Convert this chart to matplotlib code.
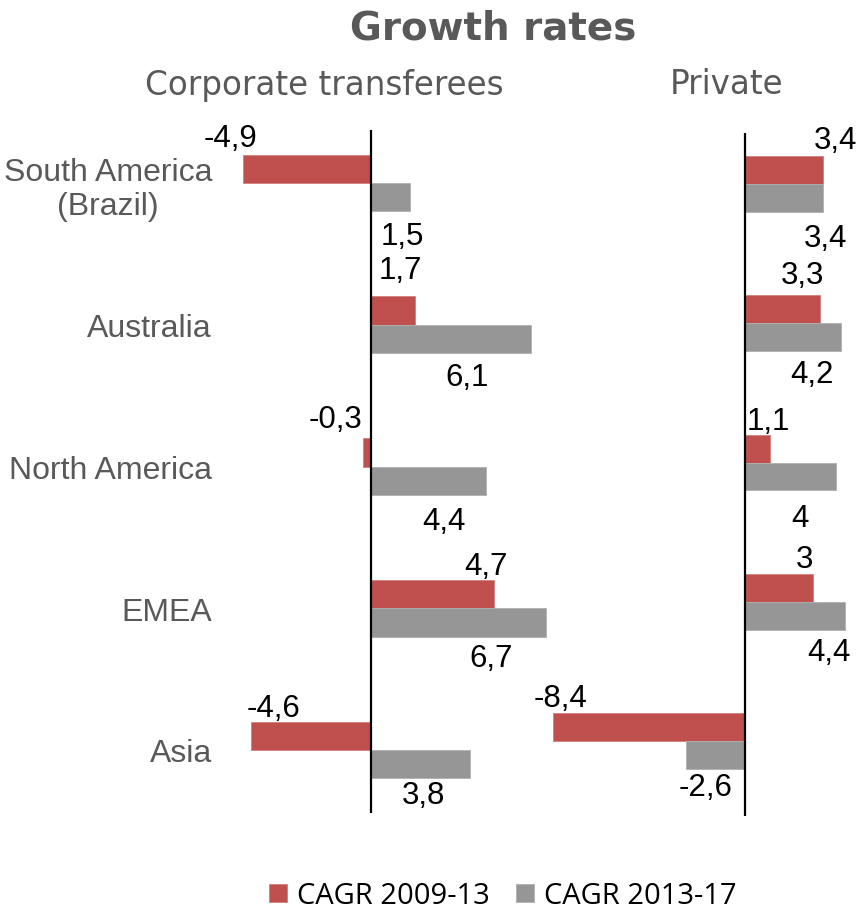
import matplotlib
matplotlib.use("Agg")
import matplotlib.pyplot as plt
import numpy as np

plt.rcParams['font.family'] = ['Liberation Sans', 'DejaVu Sans']

# ---- data ----
categories = ["South America\n(Brazil)", "Australia", "North America", "EMEA", "Asia"]
series_names = ["CAGR 2009-13", "CAGR 2013-17"]

corporate_0913 = [-4.9, 1.7, -0.3, 4.7, -4.6]
corporate_1317 = [1.5, 6.1, 4.4, 6.7, 3.8]
private_0913 = [3.4, 3.3, 1.1, 3.0, -8.4]
private_1317 = [3.4, 4.2, 4.0, 4.4, -2.6]

# ---- label placement (pixel offsets from the end of each bar) ----
corp_red_off = [(-12, 23), (-15, 33), (-28, 25), (-8, 20), (23, 20)]
corp_gray_off = [(-8, -47), (-63, -46), (-42, -48), (-55, -44), (-47, -39)]
priv_red_off = [(13, 22), (-18, 26), (-2, 20), (-9, 21), (7, 21)]
priv_gray_off = [(3, -48), (-29, -45), (-36, -50), (-16, -44), (20, -40)]

RED = "#C0504D"
GRAY = "#969696"
TXT_GRAY = "#595959"

W, H = 861, 912
fig = plt.figure(figsize=(W / 100, H / 100), dpi=100)


def px_rect(x0, x1, ytop, ybot):
    return [x0 / W, 1 - ybot / H, (x1 - x0) / W, (ybot - ytop) / H]


def fmt(v):
    return ("%g" % v).replace(".", ",")


def panel(ax, red_vals, gray_vals, red_off, gray_off):
    y = np.arange(len(categories))
    h = 0.2
    b1 = ax.barh(y - h / 2, red_vals, height=h, color=RED, edgecolor="#D07F7D",
                 linewidth=0.6, label=series_names[0])
    b2 = ax.barh(y + h / 2, gray_vals, height=h, color=GRAY, edgecolor="#B0B0B0",
                 linewidth=0.6, label=series_names[1])
    ax.axvline(0, color="black", lw=1.6, zorder=5)
    for i in range(len(categories)):
        ax.annotate(fmt(red_vals[i]), xy=(red_vals[i], y[i] - h / 2),
                    xytext=red_off[i], textcoords="offset pixels",
                    ha="center", va="baseline", fontsize=22.5, color="black",
                    annotation_clip=False)
        ax.annotate(fmt(gray_vals[i]), xy=(gray_vals[i], y[i] + h / 2),
                    xytext=gray_off[i], textcoords="offset pixels",
                    ha="center", va="baseline", fontsize=22.5, color="black",
                    annotation_clip=False)
    for s in ax.spines.values():
        s.set_visible(False)
    ax.set_xticks([])
    ax.patch.set_alpha(0)
    return b1, b2


# left panel: corporate transferees
left_scale = 26.15
axL = fig.add_axes(px_rect(371 - 6 * left_scale, 371 + 8 * left_scale, 131, 814))
axL.set_xlim(-6, 8)
axL.set_ylim(4 + (814 - 751) / 141.75, -(184 - 131) / 141.75)
hL = panel(axL, corporate_0913, corporate_1317, corp_red_off, corp_gray_off)
axL.set_yticks(np.arange(len(categories)))
axL.set_yticklabels(categories, fontsize=23, color=TXT_GRAY, multialignment="center")
axL.tick_params(axis="y", length=0, pad=1.5)

# right panel: private
right_scale = 22.8
axR = fig.add_axes(px_rect(745 - 9 * right_scale, 745 + 5 * right_scale, 134, 817))
axR.set_xlim(-9, 5)
axR.set_ylim(4 + (817 - 742) / 139.25, -(185 - 134) / 139.25)
panel(axR, private_0913, private_1317, priv_red_off, priv_gray_off)
axR.set_yticks([])

# titles
fig.text(493.5 / W, 1 - 39.5 / H, "Growth rates", ha="center", va="baseline",
         fontsize=28, fontweight="bold", color=TXT_GRAY, family=["DejaVu Sans"])
fig.text(324 / W, 1 - 95 / H, "Corporate transferees", ha="center", va="baseline",
         fontsize=23.5, color=TXT_GRAY, family=["DejaVu Sans"])
fig.text(727 / W, 1 - 93.5 / H, "Private", ha="center", va="baseline",
         fontsize=23.5, color=TXT_GRAY, family=["DejaVu Sans"])

# legend
fig.legend(hL, series_names, loc="center", bbox_to_anchor=(503 / W, 1 - 897 / H),
           ncol=2, frameon=False, prop={"family": ["Open Sans", "DejaVu Sans"], "size": 21},
           handlelength=0.62, handleheight=0.6, handletextpad=0.35,
           columnspacing=0.9, borderpad=0, borderaxespad=0)

fig.savefig("out.png", dpi=100)
